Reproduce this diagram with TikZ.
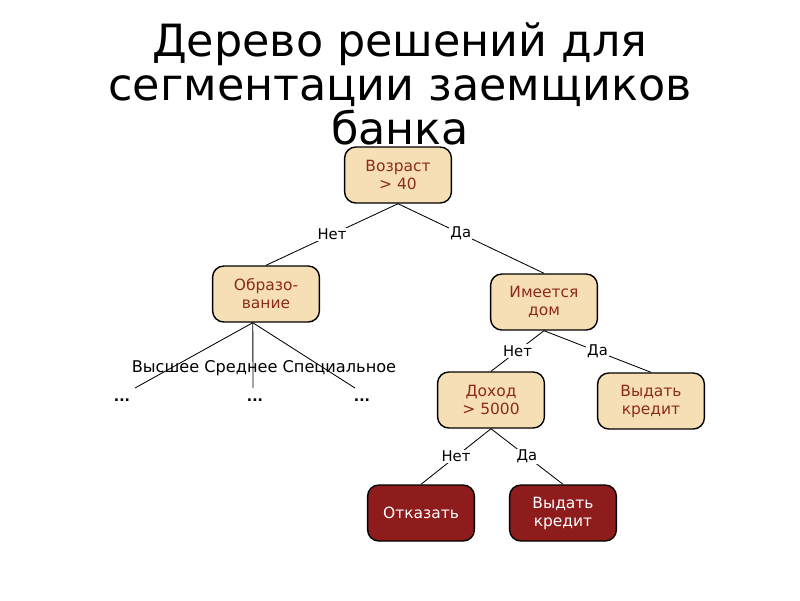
\documentclass[tikz,border=0pt]{standalone}
\usepackage{fontspec}
\setmainfont{DejaVu Sans}
\usepackage{xcolor}
\usepackage{tikz}
\usetikzlibrary{positioning}
\definecolor{Wheat}{HTML}{F6DFB4}
\definecolor{Brick}{HTML}{8E1C1C}
\definecolor{BrickText}{HTML}{8B2A1E}

\begin{document}
\begin{tikzpicture}[x=0.025cm,y=-0.025cm,
  title/.style={font=\fontsize{31.6}{31.2}\selectfont,align=center},
  test/.style={draw=black,line width=1pt,rounded corners=8pt,fill=Wheat,text=BrickText,align=center,
    minimum width=2.67cm,minimum height=1.4cm,inner sep=2pt,font=\fontsize{11}{12.8}\selectfont},
  leaf/.style={test,fill=Brick,text=white},
  branch/.style={draw=black,line width=0.6pt},
  answer/.style={fill=white,inner sep=1pt,font=\fontsize{10.5}{12}\selectfont},
  value/.style={font=\fontsize{11.5}{12}\selectfont}
]
\useasboundingbox (0,0) rectangle (800,600);

\node[title] (heading) at (400,84) {Дерево решений для\\сегментации заемщиков\\банка};

\node[test] (age) at (398,175) {Возраст\\> 40};
\node[test] (edu) at (266,294) {Образо-\\вание};
\node[test] (house) at (544,302) {Имеется\\дом};
\node[test] (income) at (491,400) {Доход\\> 5000};
\node[test] (grantA) at (651,401) {Выдать\\кредит};
\node[leaf] (refuse) at (421,513) {Отказать};
\node[leaf] (grantB) at (563,513) {Выдать\\кредит};

\draw[branch] (age.south) -- node[answer] {Нет} (edu.north);
\draw[branch] (age.south) -- node[answer,pos=0.43] {Да} (house.north);
\draw[branch] (house.south) -- node[answer] {Нет} (income.north);
\draw[branch] (house.south) -- node[answer] {Да} (grantA.north);
\draw[branch] (income.south) -- node[answer] {Нет} (refuse.north);
\draw[branch] (income.south) -- node[answer] {Да} (grantB.north);

% education branches
\coordinate (eduL) at (135,388);
\coordinate (eduM) at (253,388);
\coordinate (eduR) at (355,388);
\foreach \c in {eduL,eduM,eduR} \draw[branch] ([xshift=-0.33cm]edu.south) -- (\c);
\node[value] (kinds) at (264,368) {Высшее Среднее Специальное};
\node[value,font=\bfseries] (moreL) at (122,400) {...};
\node[value,font=\bfseries] (moreM) at (255,400) {...};
\node[value,font=\bfseries] (moreR) at (362,400) {...};
\end{tikzpicture}
\end{document}
